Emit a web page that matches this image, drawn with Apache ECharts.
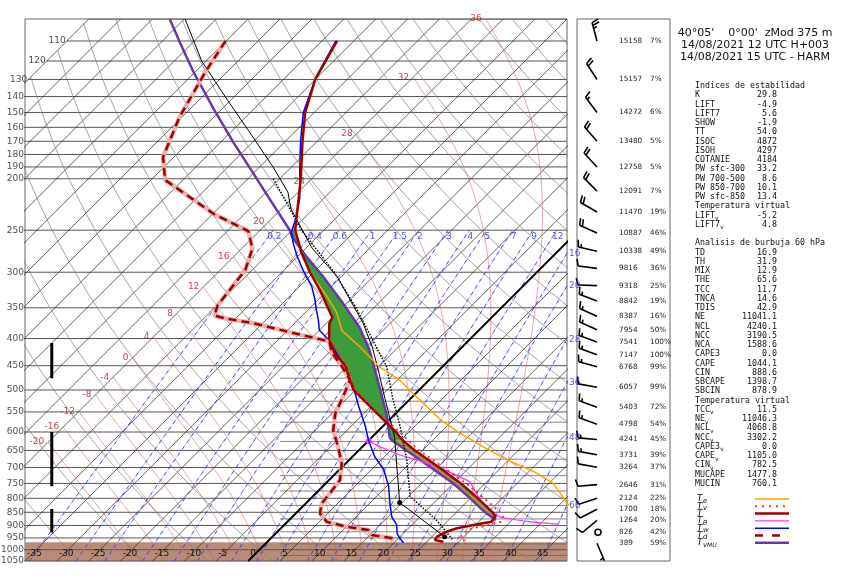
<!DOCTYPE html>
<html>
<head>
<meta charset="utf-8">
<title>Sondeo HARMONIE 40N 0E</title>
<script src="https://cdn.jsdelivr.net/npm/echarts@6.0.0/dist/echarts.min.js"></script>
<style>
  html, body { margin: 0; padding: 0; background: #fff; }
  #skewt { width: 850px; height: 580px; }
</style>
</head>
<body>
<div id="skewt"></div>
<script>
// ---- sounding profiles: pressure (hPa) and temperature (°C) ----
const tempP = [110, 130, 150, 170, 200, 225, 250, 275, 300, 325, 350, 365, 375, 400, 425, 450, 500, 550, 600, 622, 650, 700, 750, 800, 850, 866, 886, 898, 911, 925, 945, 959, 966];
const tempT = [-67.6, -65.0, -61.4, -57.3, -51.7, -47.9, -44.5, -40.1, -35.6, -31.1, -27.2, -25.0, -24.5, -22.2, -19.2, -15.4, -10.3, -3.4, 2.95, 5.3, 8.8, 15.3, 21.2, 26.2, 30.7, 31.8, 32.0, 29.7, 27.6, 26.5, 25.8, 26.0, 27.6];

const dewP = [110, 125, 153, 182, 201, 233, 251, 271, 297, 324, 346, 362, 367, 374, 389, 405, 425, 450, 479, 516, 553, 595, 640, 687, 739, 783, 818, 854, 886, 905, 918, 938, 951, 966];
const dewT = [-85.1, -83.5, -80.4, -76.7, -72.8, -59.8, -51.7, -48.3, -46.1, -45.4, -44.9, -43.8, -41.4, -36.6, -29.4, -21.7, -19.6, -16.0, -12.4, -10.85, -9.5, -7.2, -3.8, -0.65, 1.7, 2.2, 2.5, 3.8, 6.2, 10.1, 14.0, 15.3, 19.0, 19.4];

const wetP = [110, 129, 150, 170, 190, 218, 239, 252, 265, 280, 299, 319, 338, 354, 369, 386, 402, 450, 493, 537, 586, 624, 668, 706, 759, 818, 867, 898, 931, 952, 970];
const wetT = [-67.8, -65.2, -61.7, -57.6, -53.7, -48.75, -46.1, -44.8, -42.7, -40.1, -36.7, -33.1, -30.5, -28.6, -26.8, -25.0, -22.1, -15.6, -10.85, -6.9, -2.7, 0.1, 3.5, 6.9, 10.3, 13.2, 15.6, 17.65, 19.0, 20.25, 21.5];

const virtP = [400, 450, 500, 550, 600, 650, 700, 750, 800, 850, 866, 886, 898, 911, 925, 945, 966];
const virtT = [-22.0, -15.2, -10.0, -3.0, 3.5, 9.5, 16.0, 22.0, 27.2, 31.9, 33.0, 33.5, 31.8, 30.0, 29.5, 29.5, 31.0];

const equivP = [250, 281, 306, 334, 358, 386, 415, 453, 479, 507, 538, 569, 603, 640, 677, 712, 749, 795, 817, 850];
const equivT = [-44.6, -39.1, -34.4, -29.0, -25.0, -21.5, -16.0, -9.75, -4.6, -0.5, 3.9, 8.0, 13.15, 19.0, 24.75, 30.7, 35.6, 39.3, 40.9, 44.0];

const magP = [624, 640, 663, 677, 701, 729, 745, 772, 806, 834, 868, 879, 887, 895];
const magT = [0.1, 2.8, 7.2, 10.6, 15.5, 20.05, 22.4, 24.4, 26.8, 29.1, 32.6, 35.7, 38.6, 42.8];

// most unstable parcel (virtual)
const muP = [100, 111, 126, 148, 171, 195, 218, 250, 258, 281, 306, 343, 381, 421, 473, 500, 562, 614, 622, 650, 700, 750, 800, 850, 879];
const muT = [-97.3, -91.9, -85.2, -76.2, -67.9, -60.1, -53.5, -45.35, -43.8, -38.45, -32.8, -25.6, -19.2, -14.0, -8.65, -6.1, -0.8, 2.8, 3.6, 7.5, 14.0, 20.0, 25.0, 29.5, 32.4];

// 60 hPa mixed-layer parcel, and its virtual counterpart
const parcelP = [100, 120, 142, 164, 190, 212, 228, 270, 306, 338, 374, 415, 458, 500, 613, 815, 945];
const parcelT = [-94.9, -85.7, -75.6, -66.8, -57.9, -51.6, -48.5, -39.1, -30.6, -25.0, -19.3, -14.1, -9.6, -5.7, 3.5, 14.6, 27.0];
const parcelVP = [200, 250, 300, 350, 415, 452, 516, 586, 677, 794, 879, 960];
const parcelVT = [-56.0, -43.5, -31.8, -22.8, -13.45, -8.75, -3.05, 2.75, 9.0, 15.3, 23.1, 28.9];

// cloud layers (base, top) in hPa
const cloudBase = [475, 759, 928];
const cloudTop = [408, 600, 838];
const surfaceP = 968;

// ---- diagram furniture ----
const pLabels = [1050, 1000, 950, 900, 850, 800, 750, 700, 650, 600, 550, 500, 450, 400, 350, 300, 250, 200, 190, 180, 170, 160, 150, 140, 130, 120, 110];
const pMinor = [475, 525, 575, 625, 675, 725, 775, 825, 875, 925, 975, 1025];
const isotherms = [];
for (let t = -110; t <= 45; t += 5) isotherms.push(t);
const dryThetas = [];
for (let t = -30; t <= 200; t += 10) dryThetas.push(t);
const moistThetaW = [-20, -16, -12, -8, -4, 0, 4, 8, 12, 16, 20, 24, 28, 32, 36];
const mixRatios = [0.2, 0.4, 0.6, 1, 1.5, 2, 3, 4, 5, 7, 9, 12, 16, 20, 28, 36, 48, 66];

// ---- wind column ----
const windH = [15158, 15157, 14272, 13480, 12758, 12091, 11470, 10887, 10338, 9816, 9318, 8842, 8387, 7954, 7541, 7147, 6768, 6057, 5403, 4798, 4241, 3731, 3264, 2646, 2124, 1700, 1264, 826, 389];
const windRH = [7, 7, 6, 5, 5, 7, 19, 46, 49, 36, 25, 19, 16, 50, 100, 100, 99, 99, 72, 54, 45, 39, 37, 31, 22, 18, 20, 42, 59];
const windP = [110, 130, 150, 170, 190, 211, 231, 253, 274, 295, 318, 340, 363, 385, 406, 429, 452, 494, 539, 580, 620, 662, 699, 754, 800, 839, 880, 927, 972];
const windDir = [345, 327, 323, 319, 317, 315, 300, 294, 283, 277, 272, 291, 294, 294, 290, 290, 285, 280, 290, 290, 275, 280, 280, 265, 252, 243, 230, 0, 157];
const windKt = [25, 20, 15, 20, 20, 20, 20, 20, 15, 10, 10, 15, 15, 15, 15, 15, 15, 10, 15, 15, 15, 15, 10, 10, 10, 10, 10, 0, 5];

// ---- text panel ----
const header = ["40°05'    0°00'  zMod 375 m", '14/08/2021 12 UTC H+003', '14/08/2021 15 UTC - HARM'];
const indexRows = [
  ['Indices de estabilidad'], ['K', '29.8'], ['LIFT', '-4.9'], ['LIFT7', '5.6'], ['SHOW', '-1.9'], ['TT', '54.0'],
  ['ISOC', '4872'], ['ISOH', '4297'], ['COTANIE', '4184'], ['PW sfc-300', '33.2'], ['PW 700-500', '8.6'],
  ['PW 850-700', '10.1'], ['PW sfc-850', '13.4'], ['Temperatura virtual'], ['LIFT', '-5.2', 'v'], ['LIFT7', '4.8', 'v'],
  [''], ['Analisis de burbuja 60 hPa'], ['TD', '16.9'], ['TH', '31.9'], ['MIX', '12.9'], ['THE', '65.6'], ['TCC', '11.7'],
  ['TNCA', '14.6'], ['TDIS', '42.9'], ['NE', '11041.1'], ['NCL', '4240.1'], ['NCC', '3190.5'], ['NCA', '1588.6'],
  ['CAPE3', '0.0'], ['CAPE', '1044.1'], ['CIN', '888.6'], ['SBCAPE', '1398.7'], ['SBCIN', '878.9'],
  ['Temperatura virtual'], ['TCC', '11.5', 'v'], ['NE', '11046.3', 'v'], ['NCL', '4068.8', 'v'], ['NCC', '3302.2', 'v'],
  ['CAPE3', '0.0', 'v'], ['CAPE', '1105.0', 'v'], ['CIN', '782.5', 'v'], ['MUCAPE', '1477.8'], ['MUCIN', '760.1']
];
const legendSubs = ['e', 'v', '', 'θ', 'w', 'd', 'v'];
const legendStyles = [
  { color: '#ffa500', width: 1.5, type: 'solid' },
  { color: '#ff3030', width: 2, type: [2, 5] },
  { color: '#a00000', width: 2.5, type: 'solid' },
  { color: '#ff33ff', width: 1.2, type: 'solid' },
  { color: '#0000ff', width: 1.5, type: 'solid' },
  { color: '#a00000', width: 2.5, type: [8, 9] },
  { color: '#6a36a8', width: 2.5, type: 'solid' }
];

// ---- skew-T geometry ----
const XMIN = -35, XMAX = 50, P0 = 1050, PTOP = 100, TCUT = -110;
const SKEW = (XMAX - XMIN) / Math.log(P0 / PTOP);
const sx = (t, p) => t + SKEW * Math.log(P0 / p);
const profile = (ps, ts) => ps.map((p, i) => [sx(ts[i], p), p]);

function satMix(tK, p) {
  const tc = tK - 273.15;
  const es = 6.112 * Math.exp(17.67 * tc / (tc + 243.5));
  return 0.622 * es / (p - es);
}
function moistDTdp(tK, p) {
  const Rd = 287.04, Cp = 1005.7, Lv = 2.501e6;
  const rs = satMix(tK, p);
  return (Rd * tK + Lv * rs) / (p * (Cp + Lv * Lv * rs * 0.622 / (Rd * tK * tK)));
}
function rk4(tK, p, h) {
  const k1 = moistDTdp(tK, p);
  const k2 = moistDTdp(tK + h * k1 / 2, p + h / 2);
  const k3 = moistDTdp(tK + h * k2 / 2, p + h / 2);
  const k4 = moistDTdp(tK + h * k3, p + h);
  return tK + h * (k1 + 2 * k2 + 2 * k3 + k4) / 6;
}
function moistAdiabat(thw) {
  const down = [];
  let t = thw + 273.15, p = 1000;
  while (p < P0) { t = rk4(t, p, 5); p += 5; down.push([t - 273.15, p]); }
  const up = [[thw, 1000]];
  t = thw + 273.15; p = 1000;
  while (p > PTOP) {
    const h = -Math.min(5, p - PTOP);
    const tn = rk4(t, p, h);
    if (tn - 273.15 <= -50) {
      const f = (t - 273.15 + 50) / (t - tn);
      up.push([-50, p + h * f]);
      break;
    }
    t = tn; p += h; up.push([t - 273.15, p]);
  }
  return down.reverse().concat(up).map(d => [sx(d[0], d[1]), d[1]]);
}
function dryAdiabat(thC) {
  const pts = [];
  let prev = null;
  for (let p = P0; p >= PTOP; p -= 10) {
    const t = (thC + 273.15) * Math.pow(p / 1000, 0.2857) - 273.15;
    if (t < TCUT) {
      if (prev) {
        const f = (prev[0] - TCUT) / (prev[0] - t);
        const pc = prev[1] - 10 * f;
        pts.push([sx(TCUT, pc), pc]);
      }
      break;
    }
    pts.push([sx(t, p), p]);
    prev = [t, p];
  }
  return pts;
}
function mixDew(w, p) {
  const e = w * p / (622 + w);
  const l = Math.log(e / 6.112);
  return 243.5 * l / (17.67 - l);
}
function mixLine(w) {
  const pts = [];
  for (let p = P0; p >= 250; p -= 10) pts.push([sx(mixDew(w, p), p), p]);
  return pts;
}

const bg = (data, color, width, type, z) => ({
  type: 'line', data, symbol: 'none', silent: true, animation: false,
  xAxisIndex: 0, yAxisIndex: 0, z: z || 1,
  lineStyle: { color, width, type: type || 'solid' }
});

const series = [];
// ground below the model surface
series.push(Object.assign(bg([], '#000', 0), {
  z: 0,
  markArea: { silent: true, itemStyle: { color: '#b98c78' }, data: [[{ yAxis: surfaceP }, { yAxis: P0 }]] }
}));
pLabels.concat([PTOP]).forEach(p => series.push(bg([[sx(TCUT, p), p], [XMAX, p]], '#555', 1)));
pMinor.forEach(p => series.push(bg([[5, p], [XMAX, p]], '#666', 0.8)));
isotherms.forEach(t => series.push(bg([[sx(t, P0), P0], [sx(t, PTOP), PTOP]], '#222', 0.7)));
dryThetas.forEach(th => series.push(bg(dryAdiabat(th), '#808080', 0.7)));
const moistLines = moistThetaW.map(moistAdiabat);
moistLines.forEach(d => series.push(bg(d, 'rgba(205,90,90,0.75)', 0.7)));
const mixLines = mixRatios.map(mixLine);
mixLines.forEach(d => {
  series.push(bg(d, 'rgba(150,150,235,0.55)', 0.8));
  series.push(bg(d, '#2c2cc8', 0.8, [4, 4]));
});
// freezing isotherm
series.push(bg([[sx(0, P0), P0], [sx(0, PTOP), PTOP]], '#000', 2, 'solid', 2));

// labels
series.push({
  type: 'scatter', silent: true, symbolSize: 0, z: 12,
  data: pLabels.map(p => [Math.max(XMIN, sx(TCUT, p)), p]),
  label: { show: true, position: 'left', distance: 1, formatter: q => String(q.value[1]), fontSize: 9, fontFamily: 'DejaVu Sans', color: '#222' }
});
series.push({
  type: 'scatter', silent: true, symbolSize: 0, z: 12,
  data: moistLines.map((d, i) => [d[d.length - 1][0], d[d.length - 1][1], moistThetaW[i]]),
  label: { show: true, position: 'left', distance: 4, formatter: q => String(q.value[2]), fontSize: 9, fontFamily: 'DejaVu Sans', color: '#b01818' }
});
const mixTop = [], mixSide = [];
mixRatios.forEach((w, i) => {
  const top = mixLines[i][mixLines[i].length - 1];
  if (top[0] <= XMAX) { mixTop.push([top[0], top[1], w]); return; }
  let lo = 250, hi = P0;
  for (let k = 0; k < 40; k++) {
    const mid = (lo + hi) / 2;
    if (sx(mixDew(w, mid), mid) > XMAX) lo = mid; else hi = mid;
  }
  mixSide.push([XMAX - 0.01, hi, w]);
});
series.push({
  type: 'scatter', silent: true, symbolSize: 0, z: 12, data: mixTop,
  label: { show: true, position: 'inside', offset: [1, 6], formatter: q => String(q.value[2]), fontSize: 9, fontFamily: 'DejaVu Sans', color: '#2c2cc8' }
});
series.push({
  type: 'scatter', silent: true, symbolSize: 0, z: 12, data: mixSide,
  label: { show: true, position: 'right', distance: 2, formatter: q => String(q.value[2]), fontSize: 9, fontFamily: 'DejaVu Sans', color: '#2c2cc8' }
});

// CAPE / CIN areas between MU parcel and environment
function envAt(p) {
  for (let i = 0; i < tempP.length - 1; i++) {
    if (p >= tempP[i] && p <= tempP[i + 1]) {
      const f = Math.log(p / tempP[i]) / Math.log(tempP[i + 1] / tempP[i]);
      return tempT[i] + f * (tempT[i + 1] - tempT[i]);
    }
  }
  return tempT[tempT.length - 1];
}
function areaBetween(pLo, pHi) {
  const par = [], env = [];
  muP.forEach((p, i) => { if (p >= pLo && p <= pHi) par.push([sx(muT[i], p), p]); });
  const ps = [pLo].concat(tempP.filter(p => p > pLo && p < pHi), [pHi]);
  ps.forEach(p => env.push([sx(envAt(p), p), p]));
  return par.concat(env.reverse());
}
const polySeries = (data, fill) => ({
  type: 'custom', silent: true, z: 3, clip: true, data,
  encode: { x: 0, y: 1 },
  renderItem: (params, api) => {
    if (params.dataIndex !== 0) return null;
    return { type: 'polygon', shape: { points: data.map(d => api.coord(d)) }, style: { fill, stroke: fill, lineWidth: 0.5 } };
  }
});
series.push(polySeries(areaBetween(250, 622), '#3c9c3c'));
series.push(polySeries(areaBetween(622, 879), '#9c9a3c'));

// cloud bars
cloudBase.forEach((b, i) => series.push(bg([[-30.8, b], [-30.8, cloudTop[i]]], '#000', 3, 'solid', 6)));

// profiles
const prof = (ps, ts, color, width, type, z, extra) => Object.assign(bg(profile(ps, ts), color, width, type, z), extra || {});
series.push(prof(muP, muT, '#6a36a8', 2.5, 'solid', 6));
series.push(prof(parcelVP, parcelVT, '#000', 1.5, 'dotted', 6));
series.push(prof(parcelP, parcelT, '#000', 1, 'solid', 6, {
  symbol: (v, q) => (q.dataIndex >= parcelP.length - 2 ? 'circle' : 'none'), symbolSize: 5, itemStyle: { color: '#000' }
}));
series.push(prof(equivP, equivT, '#ffa500', 1.5, 'solid', 7));
series.push(prof(magP, magT, '#ff33ff', 1.2, 'solid', 7, {
  symbol: (v, q) => (q.dataIndex === 0 ? 'circle' : 'none'), symbolSize: 6, itemStyle: { color: '#ff33ff' }
}));
series.push(prof(wetP, wetT, '#0000ff', 1.5, 'solid', 8));
series.push(prof(dewP, dewT, 'rgba(235,170,170,0.9)', 4.5, 'solid', 8));
series.push(prof(dewP, dewT, '#a00000', 2.5, [8, 5], 9));
series.push(prof(tempP, tempT, '#a00000', 2.5, 'solid', 9));
series.push(prof(virtP, virtT, '#ff3030', 2, [2, 4], 10));

// wind barbs column
series.push({
  type: 'custom', xAxisIndex: 1, yAxisIndex: 1, silent: true, z: 5,
  data: windP.map((p, i) => [20, p, windDir[i], windKt[i], windH[i], windRH[i]]),
  encode: { x: 0, y: 1 },
  renderItem: (params, api) => {
    const b = api.coord([api.value(0), api.value(1)]);
    const dir = api.value(2) * Math.PI / 180, spd = api.value(3);
    const font = '7.3px DejaVu Sans';
    const kids = [
      { type: 'text', style: { x: 619, y: b[1], text: String(api.value(4)), font, fill: '#222', align: 'left', verticalAlign: 'middle', textAlign: 'left', textVerticalAlign: 'middle' } },
      { type: 'text', style: { x: 650, y: b[1], text: api.value(5) + '%', font, fill: '#222', align: 'left', verticalAlign: 'middle', textAlign: 'left', textVerticalAlign: 'middle' } }
    ];
    const st = { stroke: '#000', lineWidth: 1.6 };
    if (spd < 2.5) {
      kids.push({ type: 'circle', shape: { cx: b[0] + 1, cy: b[1], r: 3 }, style: { stroke: '#000', lineWidth: 1.6, fill: 'none' } });
    } else {
      const ux = Math.sin(dir), uy = -Math.cos(dir), L = 19;
      const tip = [b[0] + ux * L, b[1] + uy * L];
      const nx = -uy, ny = ux;
      kids.push({ type: 'line', shape: { x1: b[0], y1: b[1], x2: tip[0], y2: tip[1] }, style: st });
      let rest = Math.round(spd / 5) * 5, pos = 0;
      while (rest >= 10) {
        const x0 = tip[0] - ux * pos, y0 = tip[1] - uy * pos;
        kids.push({ type: 'line', shape: { x1: x0, y1: y0, x2: x0 + nx * 7 + ux * 2, y2: y0 + ny * 7 + uy * 2 }, style: st });
        pos += 3; rest -= 10;
      }
      if (rest >= 5) {
        if (pos === 0) pos = 3;
        const x0 = tip[0] - ux * pos, y0 = tip[1] - uy * pos;
        kids.push({ type: 'line', shape: { x1: x0, y1: y0, x2: x0 + nx * 3.5 + ux, y2: y0 + ny * 3.5 + uy }, style: st });
      }
    }
    return { type: 'group', children: kids };
  }
});

// ---- right-hand text ----
const txt = (x, y, text, font, align, fill) => ({
  type: 'text', x, y, silent: true,
  style: { text, font, fill: fill || '#111', align: align || 'left', verticalAlign: 'middle', textAlign: align || 'left', textVerticalAlign: 'middle' }
});
const graphics = [];
header.forEach((h, i) => graphics.push(txt(755, 33 + 12 * i, h, '11px DejaVu Sans', 'center')));
const mono = '8.3px DejaVu Sans Mono';
indexRows.forEach((r, i) => {
  const y = 86 + 9.25 * i;
  if (!r[0]) return;
  graphics.push(txt(695, y, r[0], mono, 'left'));
  if (r[1] !== undefined) graphics.push(txt(777, y, r[1], mono, 'right'));
  if (r[2]) graphics.push(txt(695 + r[0].length * 5, y + 3, r[2], '6px DejaVu Sans Mono', 'left'));
});
legendStyles.forEach((s, i) => {
  const y = 499 + 7.3 * i;
  graphics.push(txt(697, y, 'T', 'italic 9px DejaVu Sans', 'left'));
  if (legendSubs[i]) graphics.push(txt(703, y + 2, legendSubs[i], 'italic 7px DejaVu Sans', 'left'));
  if (i === 6) graphics.push(txt(707, y + 3, 'MU', 'italic 6px DejaVu Sans', 'left'));
  graphics.push({
    type: 'line', silent: true,
    shape: { x1: 755, y1: y, x2: 789, y2: y },
    style: { stroke: s.color, lineWidth: s.width, lineDash: Array.isArray(s.type) ? s.type : null }
  });
});

const chart = echarts.init(document.getElementById('skewt'));
chart.setOption({
  animation: false,
  backgroundColor: '#fff',
  grid: [
    { left: 25, top: 19, width: 542, height: 542, show: true, borderColor: '#666', borderWidth: 1, backgroundColor: 'transparent' },
    { left: 577, top: 19, width: 93, height: 542, show: true, borderColor: '#666', borderWidth: 1, backgroundColor: 'transparent' }
  ],
  xAxis: [
    {
      type: 'value', gridIndex: 0, min: XMIN, max: XMAX, interval: 5, z: 10,
      axisLine: { show: false }, axisTick: { show: false }, splitLine: { show: false },
      axisLabel: {
        inside: true, margin: 3, align: 'left', padding: [0, 0, 0, 2],
        fontSize: 9, fontFamily: 'DejaVu Sans', color: '#111', showMaxLabel: false,
        formatter: v => (v < XMAX ? String(v) : '')
      }
    },
    { type: 'value', gridIndex: 1, min: 0, max: 93, show: false }
  ],
  yAxis: [
    { type: 'log', gridIndex: 0, min: PTOP, max: P0, inverse: true, show: false },
    { type: 'log', gridIndex: 1, min: PTOP, max: P0, inverse: true, show: false }
  ],
  graphic: { elements: graphics },
  series
});
window.addEventListener('resize', () => chart.resize());
</script>
</body>
</html>
